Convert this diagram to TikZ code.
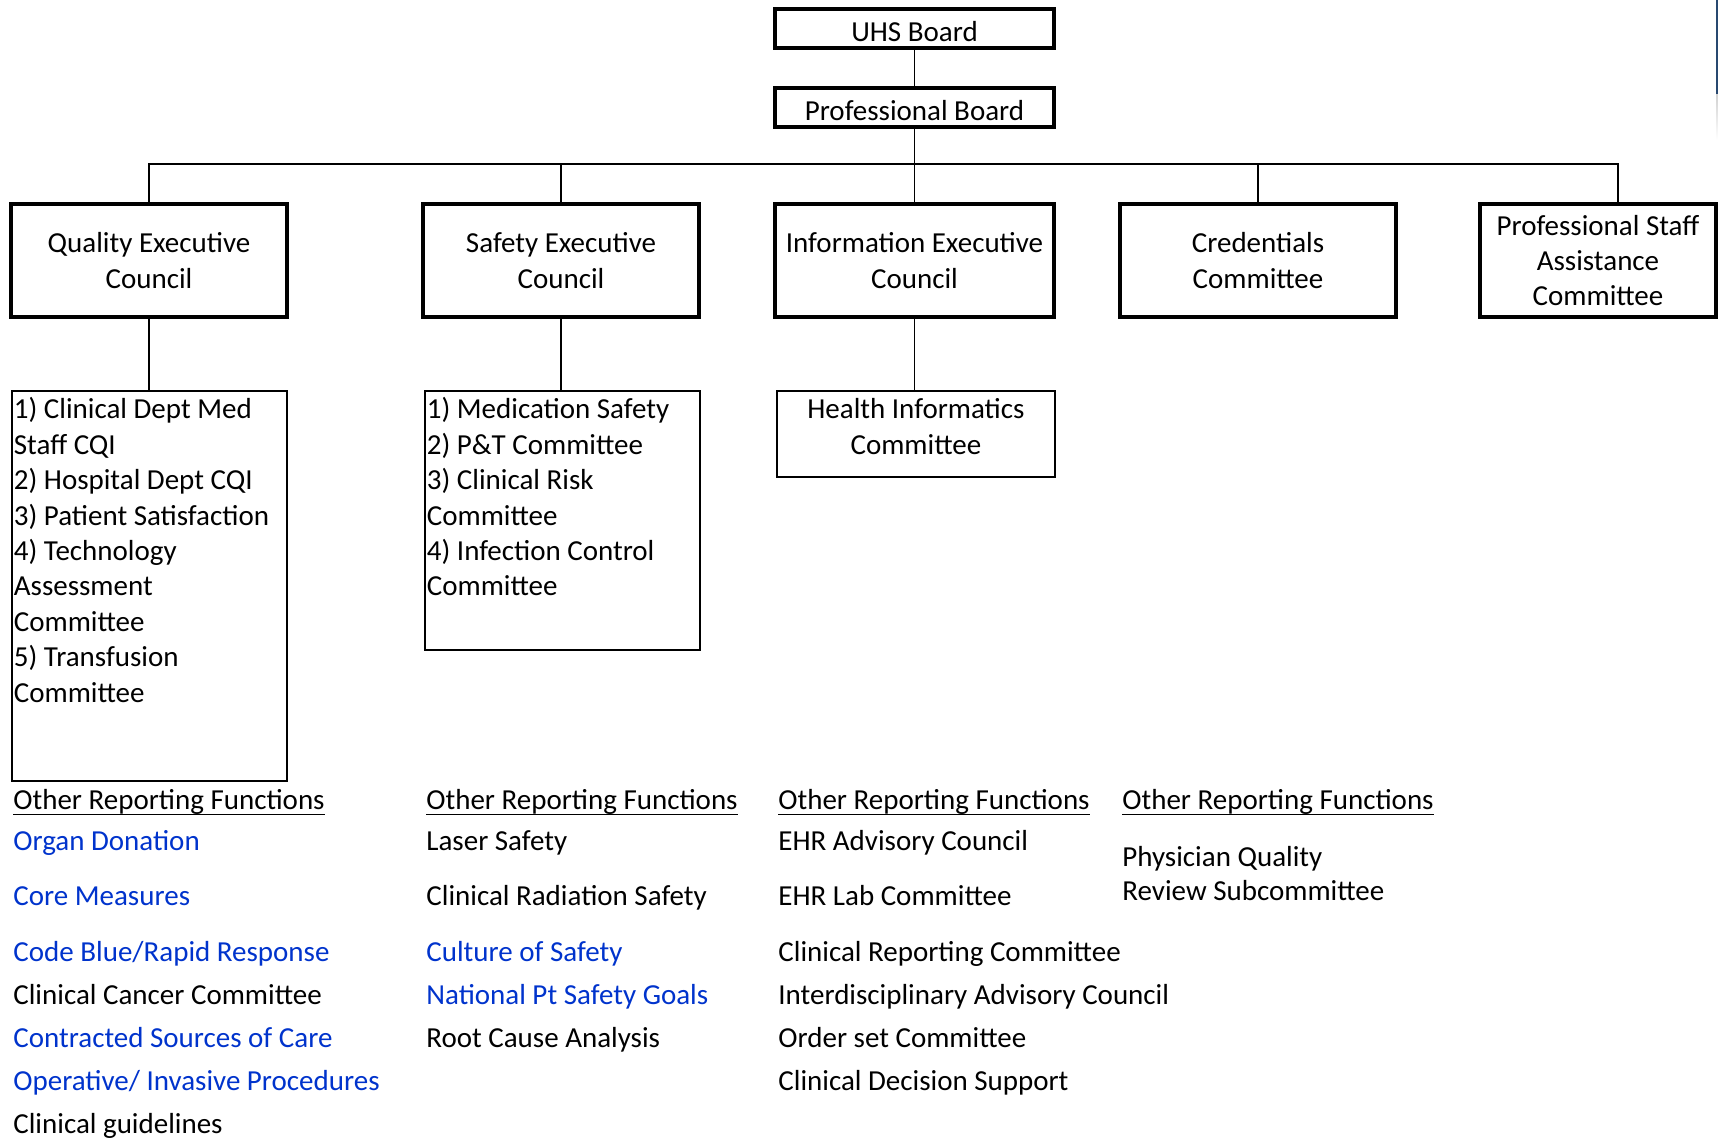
\documentclass[tikz,border=0pt]{standalone}
\usepackage{fontspec}
\setmainfont{Carlito}
\usepackage{tikz}

\definecolor{linkblue}{RGB}{0,51,204}
\definecolor{edgebar}{RGB}{40,72,112}
\newcommand{\ulfn}[1]{\setbox0=\hbox{#1}\rlap{\rule[-3.2pt]{\wd0}{0.85pt}}\box0}

\tikzset{
  every node/.style={font=\fontsize{14.5pt}{17.7pt}\selectfont},
  board/.style={draw,line width=1.6pt,minimum width=139.5pt,minimum height=19.5pt,inner sep=0pt,text height=13.5pt,text depth=0pt},
  council/.style={draw,line width=1.6pt,minimum width=138pt,minimum height=56.5pt,align=center,inner sep=0pt},
  listbox/.style={draw,line width=0.9pt,anchor=north west,inner xsep=1pt,inner ysep=0pt},
  wire/.style={line width=0.9pt},
  item/.style={anchor=base west,inner sep=0pt},
  link/.style={item,text=linkblue}
}

\begin{document}
\begin{tikzpicture}[x=0.5pt,y=-0.5pt]
\useasboundingbox (0,0) rectangle (1718,1139);
\fill[edgebar] (1716,0) rectangle (1718,95);
\shade[top color=gray!35,bottom color=white] (1716,95) rectangle (1718,140);

% boards
\node (uhs) at (914.5,28.5) [board] {UHS Board};
\node (pboard) at (914.5,107.5) [board] {Professional Board};

% councils and committees
\node (qec) at (149,260.5) [council] {Quality Executive\\Council};
\node (sec) at (561,260.5) [council] {Safety Executive\\Council};
\node (iec) at (914.5,260.5) [council,minimum width=139.5pt] {Information Executive\\Council};
\node (cred) at (1258,260.5) [council] {Credentials\\Committee};
\node (psac) at (1598,260.5) [council,minimum width=118pt] {Professional Staff\\Assistance\\Committee};
\coordinate (bus) at (0,164);
\coordinate (psacin) at (1618,204);

\draw[wire] (uhs) -- (pboard);
\draw[wire] (pboard) -- (pboard |- bus);
\draw[wire] (qec.north) |- (psacin |- bus) -- (psacin);
\draw[wire] (sec) -- (sec |- bus);
\draw[wire] (iec) -- (iec |- bus);
\draw[wire] (cred) -- (cred |- bus);

% sub committees
\node (qlist) at (11,390) [listbox] {\parbox[t][195pt][t]{135.5pt}{\raggedright\rule{0pt}{14pt}1) Clinical Dept Med\\Staff CQI\\2) Hospital Dept CQI\\3) Patient Satisfaction\\4) Technology\\Assessment\\Committee\\5) Transfusion\\Committee}};
\node (slist) at (424,390) [listbox] {\parbox[t][129.5pt][t]{135.5pt}{\raggedright\rule{0pt}{14pt}1) Medication Safety\\2) P\&T Committee\\3) Clinical Risk\\Committee\\4) Infection Control\\Committee}};
\node (hic) at (776,390) [listbox] {\parbox[t][43pt][t]{137pt}{\centering\rule{0pt}{14pt}Health Informatics\\Committee}};

\draw[wire] (qec.south) -- (qec.south |- qlist.north);
\draw[wire] (sec.south) -- (sec.south |- slist.north);
\draw[wire] (iec.south) -- (iec.south |- hic.north);

% other reporting functions
\node (qhead) at (13,809) [item] {\ulfn{Other Reporting Functions}};
\node (qorg) at (13,850) [link] {Organ Donation};
\node (qcore) at (13,905) [link] {Core Measures};
\node (qcode) at (13,961) [link] {Code Blue/Rapid Response};
\node (qcanc) at (13,1004) [item] {Clinical Cancer Committee};
\node (qcontr) at (13,1047) [link] {Contracted Sources of Care};
\node (qoper) at (13,1090) [link] {Operative/ Invasive Procedures};
\node (qguide) at (13,1133) [item] {Clinical guidelines};

\node (shead) at (426,809) [item] {\ulfn{Other Reporting Functions}};
\node (slaser) at (426,850) [item] {Laser Safety};
\node (srad) at (426,905) [item] {Clinical Radiation Safety};
\node (scult) at (426,961) [link] {Culture of Safety};
\node (sgoals) at (426,1004) [link] {National Pt Safety Goals};
\node (sroot) at (426,1047) [item] {Root Cause Analysis};

\node (ihead) at (778,809) [item] {\ulfn{Other Reporting Functions}};
\node (iadv) at (778,850) [item] {EHR Advisory Council};
\node (ilab) at (778,905) [item] {EHR Lab Committee};
\node (irep) at (778,961) [item] {Clinical Reporting Committee};
\node (iinter) at (778,1004) [item] {Interdisciplinary Advisory Council};
\node (iorder) at (778,1047) [item] {Order set Committee};
\node (idec) at (778,1090) [item] {Clinical Decision Support};

\node (chead) at (1122,809) [item] {\ulfn{Other Reporting Functions}};
\node (cphys) at (1122,866) [item] {Physician Quality};
\node (crev) at (1122,900) [item] {Review Subcommittee};
\end{tikzpicture}
\end{document}
